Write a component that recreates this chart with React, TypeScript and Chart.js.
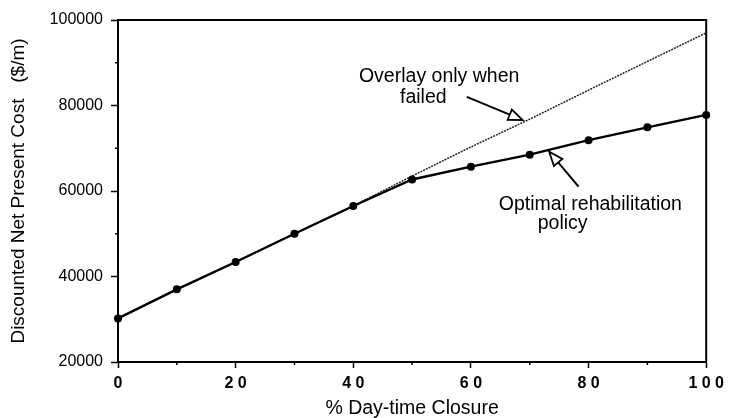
import React, { useEffect, useRef } from "react";
import { Chart, registerables } from "chart.js";

Chart.register(...registerables);

// ---- data ----
const closurePct = [0, 10, 20, 30, 40, 50, 60, 70, 80, 90, 100];
const optimalCost = [30200, 37000, 43400, 50000, 56500, 62700, 65700, 68500, 71900, 74900, 77800];
const overlayCost = [30200, 37000, 43400, 50000, 56500, 63500, 70300, 76800, 83600, 90300, 97000];

const xMajorTicks = [0, 20, 40, 60, 80, 100];
const xTickLabels = ["0", "2 0", "4 0", "6 0", "8 0", "1 0 0"];
const xMinorTicks = [10, 30, 50, 70, 90];
const yMajorTicks = [20000, 40000, 60000, 80000, 100000];
const yTickLabels = ["20000", "40000", "60000", "80000", "100000"];
const yMinorTicks = [30000, 50000, 70000, 90000];

const xTitle = "% Day-time Closure";
const yTitle = "Discounted Net Present Cost   ($/m)";

// annotation anchors in data units
const noteTexts = ["Overlay only when", "failed", "Optimal rehabilitation", "policy"];
const noteX = [54.6, 51.9, 80.3, 75.6];
const noteY = [86700, 81750, 56700, 52400];
const arrowFromX = [59.3, 78.3];
const arrowFromY = [82000, 61000];
const arrowToX = [68.8, 73.3];
const arrowToY = [76600, 69200];

const FONT = "'Liberation Sans', Arial, Helvetica, sans-serif";

const decorPlugin = {
  id: "decor",
  afterDraw(chart: any) {
    const { ctx, chartArea, scales } = chart;
    const xs = scales.x;
    const ys = scales.y;
    ctx.save();
    // frame top & right
    ctx.strokeStyle = "#000";
    ctx.lineWidth = 2;
    ctx.beginPath();
    ctx.moveTo(chartArea.left, chartArea.top);
    ctx.lineTo(chartArea.right, chartArea.top);
    ctx.lineTo(chartArea.right, chartArea.bottom);
    ctx.stroke();
    // minor ticks
    ctx.lineWidth = 1.5;
    ctx.beginPath();
    xMinorTicks.forEach((v) => {
      const px = xs.getPixelForValue(v);
      ctx.moveTo(px, chartArea.bottom);
      ctx.lineTo(px, chartArea.bottom + 3);
    });
    yMinorTicks.forEach((v) => {
      const py = ys.getPixelForValue(v);
      ctx.moveTo(chartArea.left - 3, py);
      ctx.lineTo(chartArea.left, py);
    });
    ctx.stroke();
    // annotation texts
    ctx.fillStyle = "#000";
    ctx.font = `19.5px ${FONT}`;
    ctx.textAlign = "center";
    ctx.textBaseline = "middle";
    noteTexts.forEach((t, i) => {
      ctx.fillText(t, xs.getPixelForValue(noteX[i]), ys.getPixelForValue(noteY[i]));
    });
    // arrows with hollow heads
    arrowFromX.forEach((_, i) => {
      const x1 = xs.getPixelForValue(arrowFromX[i]);
      const y1 = ys.getPixelForValue(arrowFromY[i]);
      const x2 = xs.getPixelForValue(arrowToX[i]);
      const y2 = ys.getPixelForValue(arrowToY[i]);
      const ang = Math.atan2(y2 - y1, x2 - x1);
      const headLen = 14;
      const headHalf = 5.5;
      const bx = x2 - headLen * Math.cos(ang);
      const by = y2 - headLen * Math.sin(ang);
      ctx.strokeStyle = "#000";
      ctx.lineWidth = 2;
      ctx.beginPath();
      ctx.moveTo(x1, y1);
      ctx.lineTo(bx, by);
      ctx.stroke();
      ctx.beginPath();
      ctx.moveTo(x2, y2);
      ctx.lineTo(bx + headHalf * Math.sin(ang), by - headHalf * Math.cos(ang));
      ctx.lineTo(bx - headHalf * Math.sin(ang), by + headHalf * Math.cos(ang));
      ctx.closePath();
      ctx.fillStyle = "#fff";
      ctx.fill();
      ctx.lineWidth = 1.8;
      ctx.stroke();
    });
    ctx.restore();
  },
};

export default function App() {
  const canvasRef = useRef<HTMLCanvasElement | null>(null);

  useEffect(() => {
    const canvas = canvasRef.current;
    if (!canvas) return;
    const chart = new Chart(canvas, {
      type: "line",
      data: {
        datasets: [
          {
            label: "Optimal rehabilitation policy",
            data: closurePct.map((x, i) => ({ x, y: optimalCost[i] })),
            borderColor: "#000",
            backgroundColor: "#000",
            borderWidth: 2.4,
            pointRadius: 4,
            pointStyle: "circle",
            pointBackgroundColor: "#000",
            pointBorderWidth: 0,
            tension: 0,
            clip: false,
          },
          {
            label: "Overlay only when failed",
            data: closurePct.map((x, i) => ({ x, y: overlayCost[i] })),
            borderColor: "#222",
            borderWidth: 1.5,
            borderDash: [2, 1],
            pointRadius: 0,
            tension: 0,
          },
        ],
      },
      options: {
        animation: false,
        responsive: false,
        layout: { padding: { top: 20, right: 18, left: 0, bottom: 0 } },
        plugins: {
          legend: { display: false },
          tooltip: { enabled: false },
        },
        scales: {
          x: {
            type: "linear",
            min: 0,
            max: 100,
            afterBuildTicks: (s: any) => {
              s.ticks = xMajorTicks.map((v) => ({ value: v }));
            },
            afterFit: (s: any) => {
              s.height = 56;
            },
            ticks: {
              autoSkip: false,
              maxRotation: 0,
              padding: 6,
              color: "#000",
              font: { family: FONT, size: 16, weight: "bold" },
              callback: (v: any) => {
                const i = xMajorTicks.indexOf(Number(v));
                return i >= 0 ? xTickLabels[i] : "";
              },
            },
            grid: {
              drawOnChartArea: false,
              drawTicks: true,
              tickLength: 6,
              tickColor: "#000",
              tickWidth: 1.5,
            },
            border: { display: true, color: "#000", width: 2 },
            title: {
              display: true,
              text: xTitle,
              color: "#000",
              font: { family: FONT, size: 19.5, lineHeight: 1 },
              padding: { top: 0, bottom: 0 },
            },
          },
          y: {
            type: "linear",
            min: 20000,
            max: 100000,
            afterBuildTicks: (s: any) => {
              s.ticks = yMajorTicks.map((v) => ({ value: v }));
            },
            afterFit: (s: any) => {
              s.width = 118;
            },
            ticks: {
              padding: 8,
              color: "#000",
              font: { family: FONT, size: 16 },
              callback: (v: any) => {
                const i = yMajorTicks.indexOf(Number(v));
                return i >= 0 ? yTickLabels[i] : "";
              },
            },
            grid: {
              drawOnChartArea: false,
              drawTicks: true,
              tickLength: 7,
              tickColor: "#000",
              tickWidth: 1.5,
            },
            border: { display: true, color: "#000", width: 2 },
            title: {
              display: true,
              text: yTitle,
              color: "#000",
              font: { family: FONT, size: 19, lineHeight: 1 },
              padding: { top: 9, bottom: 0 },
            },
          },
        },
      },
      plugins: [decorPlugin],
    });
    return () => chart.destroy();
  }, []);

  return (
    <div style={{ position: "absolute", left: 0, top: 0, width: 730, height: 418, background: "#fff" }}>
      <canvas ref={canvasRef} width={730} height={418} style={{ display: "block" }} />
    </div>
  );
}
